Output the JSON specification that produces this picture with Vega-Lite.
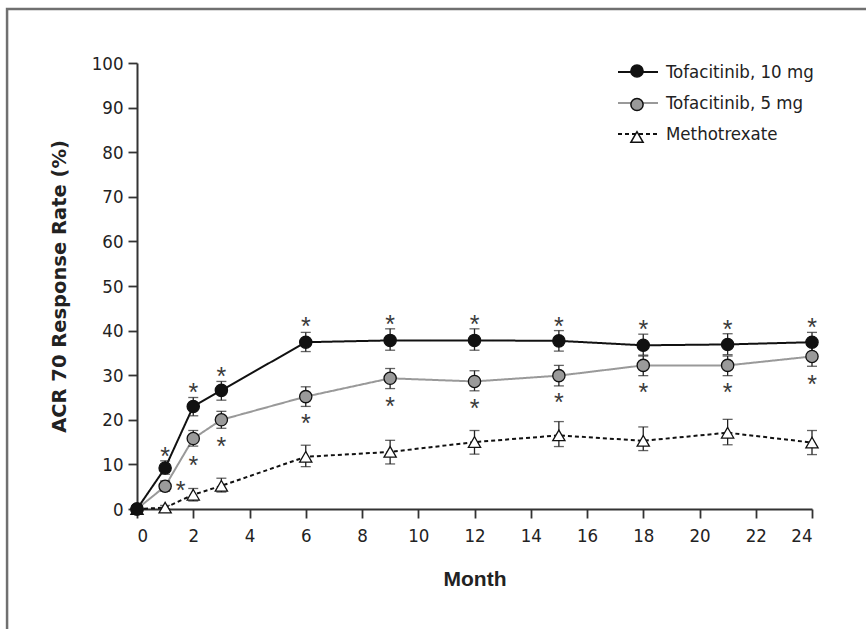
{
  "$schema": "https://vega.github.io/schema/vega-lite/v6.json",
  "width": 675,
  "height": 446,
  "autosize": {"type": "none"},
  "padding": {"left": 137, "top": 63, "right": 54, "bottom": 120},
  "background": "white",
  "config": {
    "view": {"stroke": null},
    "axis": {
      "domainColor": "#333",
      "domainWidth": 2,
      "tickColor": "#333",
      "tickWidth": 1.8,
      "labelFont": "DejaVu Sans Condensed, Liberation Sans, sans-serif",
      "labelFontSize": 18.5,
      "labelColor": "#222",
      "grid": false,
      "titleColor": "#222"
    }
  },
  "datasets": {
    "series": [
      {"month": 0, "group": "Methotrexate", "order": 3, "value": 0, "lo": 0, "hi": 0},
      {"month": 1, "group": "Methotrexate", "order": 3, "value": 0.3, "lo": 0, "hi": 0.8},
      {"month": 2, "group": "Methotrexate", "order": 3, "value": 3.2, "lo": 1.8, "hi": 4.6},
      {"month": 3, "group": "Methotrexate", "order": 3, "value": 5.2, "lo": 3.8, "hi": 6.9},
      {"month": 6, "group": "Methotrexate", "order": 3, "value": 11.7, "lo": 9.5, "hi": 14.3},
      {"month": 9, "group": "Methotrexate", "order": 3, "value": 12.8, "lo": 10.1, "hi": 15.4},
      {"month": 12, "group": "Methotrexate", "order": 3, "value": 15.0, "lo": 12.3, "hi": 17.6},
      {"month": 15, "group": "Methotrexate", "order": 3, "value": 16.5, "lo": 14.0, "hi": 19.6},
      {"month": 18, "group": "Methotrexate", "order": 3, "value": 15.3, "lo": 13.1, "hi": 18.4},
      {"month": 21, "group": "Methotrexate", "order": 3, "value": 17.1, "lo": 14.4, "hi": 20.1},
      {"month": 24, "group": "Methotrexate", "order": 3, "value": 14.9, "lo": 12.2, "hi": 17.6},
      {"month": 0, "group": "Tofacitinib, 5 mg", "order": 2, "value": 0, "lo": 0, "hi": 0},
      {"month": 1, "group": "Tofacitinib, 5 mg", "order": 2, "value": 5.1, "lo": 4.0, "hi": 6.3},
      {"month": 2, "group": "Tofacitinib, 5 mg", "order": 2, "value": 15.8, "lo": 14.1, "hi": 17.6},
      {"month": 3, "group": "Tofacitinib, 5 mg", "order": 2, "value": 20.0, "lo": 18.1, "hi": 21.9},
      {"month": 6, "group": "Tofacitinib, 5 mg", "order": 2, "value": 25.2, "lo": 23.0, "hi": 27.4},
      {"month": 9, "group": "Tofacitinib, 5 mg", "order": 2, "value": 29.3, "lo": 27.0, "hi": 31.5},
      {"month": 12, "group": "Tofacitinib, 5 mg", "order": 2, "value": 28.6, "lo": 26.5, "hi": 31.0},
      {"month": 15, "group": "Tofacitinib, 5 mg", "order": 2, "value": 29.9, "lo": 27.6, "hi": 32.2},
      {"month": 18, "group": "Tofacitinib, 5 mg", "order": 2, "value": 32.2, "lo": 29.9, "hi": 34.3},
      {"month": 21, "group": "Tofacitinib, 5 mg", "order": 2, "value": 32.2, "lo": 29.9, "hi": 34.3},
      {"month": 24, "group": "Tofacitinib, 5 mg", "order": 2, "value": 34.2, "lo": 32.0, "hi": 36.5},
      {"month": 0, "group": "Tofacitinib, 10 mg", "order": 1, "value": 0, "lo": 0, "hi": 0},
      {"month": 1, "group": "Tofacitinib, 10 mg", "order": 1, "value": 9.2, "lo": 7.8, "hi": 10.8},
      {"month": 2, "group": "Tofacitinib, 10 mg", "order": 1, "value": 23.0, "lo": 20.9, "hi": 25.0},
      {"month": 3, "group": "Tofacitinib, 10 mg", "order": 1, "value": 26.6, "lo": 24.4, "hi": 28.6},
      {"month": 6, "group": "Tofacitinib, 10 mg", "order": 1, "value": 37.4, "lo": 35.3, "hi": 39.6},
      {"month": 9, "group": "Tofacitinib, 10 mg", "order": 1, "value": 37.8, "lo": 35.6, "hi": 40.4},
      {"month": 12, "group": "Tofacitinib, 10 mg", "order": 1, "value": 37.8, "lo": 35.6, "hi": 40.4},
      {"month": 15, "group": "Tofacitinib, 10 mg", "order": 1, "value": 37.7, "lo": 35.4, "hi": 40.0},
      {"month": 18, "group": "Tofacitinib, 10 mg", "order": 1, "value": 36.7, "lo": 34.5, "hi": 39.2},
      {"month": 21, "group": "Tofacitinib, 10 mg", "order": 1, "value": 36.9, "lo": 34.6, "hi": 39.3},
      {"month": 24, "group": "Tofacitinib, 10 mg", "order": 1, "value": 37.4, "lo": 35.1, "hi": 39.6}
    ],
    "stars": [
      {"month": 1, "y": 13.2},
      {"month": 2, "y": 27.5},
      {"month": 3, "y": 31.1},
      {"month": 6, "y": 42.3},
      {"month": 9, "y": 42.8},
      {"month": 12, "y": 42.8},
      {"month": 15, "y": 42.3},
      {"month": 18, "y": 41.6},
      {"month": 21, "y": 41.6},
      {"month": 24, "y": 42.1},
      {"month": 1.55, "y": 5.4},
      {"month": 2, "y": 11.0},
      {"month": 3, "y": 15.3},
      {"month": 6, "y": 20.5},
      {"month": 9, "y": 24.3},
      {"month": 12, "y": 23.9},
      {"month": 15, "y": 25.2},
      {"month": 18, "y": 27.5},
      {"month": 21, "y": 27.5},
      {"month": 24, "y": 29.3}
    ]
  },
  "layer": [
    {
      "data": {"values": [{}]},
      "mark": {"type": "rect", "filled": false, "stroke": "#707070", "strokeWidth": 2.5, "clip": false},
      "encoding": {
        "x": {"datum": -4.62, "type": "quantitative", "scale": {"domain": [0, 24], "nice": false}},
        "x2": {"datum": 30},
        "y": {"datum": 112.1, "type": "quantitative", "scale": {"domain": [0, 100], "nice": false}},
        "y2": {"datum": -30}
      }
    },
    {
      "data": {"name": "series"},
      "mark": {"type": "line", "strokeWidth": 2},
      "encoding": {
        "x": {
          "field": "month", "type": "quantitative",
          "scale": {"domain": [0, 24], "nice": false},
          "axis": {
            "values": [0, 2, 4, 6, 8, 10, 12, 14, 16, 18, 20, 22, 24],
            "tickSize": 9, "labelPadding": 8,
            "title": "Month", "titleFont": "Liberation Sans", "titleFontWeight": "bold", "titleFontSize": 21, "titlePadding": 24
          }
        },
        "y": {
          "field": "value", "type": "quantitative",
          "scale": {"domain": [0, 100], "nice": false},
          "axis": {
            "values": [0, 10, 20, 30, 40, 50, 60, 70, 80, 90, 100],
            "tickSize": 9, "labelPadding": 5,
            "title": "ACR 70 Response Rate (%)", "titleFont": "DejaVu Sans", "titleFontWeight": "bold", "titleFontSize": 19.5, "titlePadding": 22
          }
        },
        "detail": {"field": "group"},
        "stroke": {
          "field": "group", "type": "nominal",
          "scale": {"domain": ["Tofacitinib, 10 mg", "Tofacitinib, 5 mg", "Methotrexate"], "range": ["#111111", "#999999", "#111111"]},
          "legend": {
            "orient": "none", "legendX": 480, "legendY": -12, "title": null, "padding": 0,
            "symbolType": "stroke", "symbolSize": 1600, "symbolStrokeWidth": 2,
            "labelFont": "DejaVu Sans Condensed, Liberation Sans, sans-serif", "labelFontSize": 18.5, "labelColor": "#222", "labelOffset": 7,
            "rowPadding": -6
          }
        },
        "strokeDash": {
          "field": "group", "type": "nominal",
          "scale": {"domain": ["Tofacitinib, 10 mg", "Tofacitinib, 5 mg", "Methotrexate"], "range": [[1, 0], [1, 0], [4, 3]]}
        }
      }
    },
    {
      "data": {"name": "series"},
      "mark": {"type": "errorbar", "ticks": {"size": 10, "thickness": 1.3, "color": "#222"}, "rule": {"strokeWidth": 1.3, "color": "#222"}},
      "encoding": {
        "x": {"field": "month", "type": "quantitative"},
        "y": {"field": "lo", "type": "quantitative", "title": "ACR 70 Response Rate (%)"},
        "y2": {"field": "hi"}
      }
    },
    {
      "data": {"name": "series"},
      "mark": {"type": "point", "filled": true, "size": 150, "stroke": "#111", "strokeWidth": 1.3, "opacity": 1},
      "encoding": {
        "x": {"field": "month", "type": "quantitative"},
        "y": {"field": "value", "type": "quantitative", "title": "ACR 70 Response Rate (%)"},
        "shape": {
          "field": "group", "type": "nominal",
          "sort": {"field": "order", "op": "min"},
          "scale": {"range": ["circle", "circle", "triangle-up"]},
          "legend": {
            "orient": "none", "legendX": 493, "legendY": 1, "title": null, "padding": 0,
            "symbolSize": 150,
            "labelExpr": "''", "labelFontSize": 1, "labelOffset": 0,
            "rowPadding": 13.5,
            "encode": {"symbols": {"update": {"stroke": {"value": "#111"}, "strokeWidth": {"value": 1.3}, "opacity": {"value": 1}}}}
          }
        },
        "fill": {
          "field": "group", "type": "nominal",
          "sort": {"field": "order", "op": "min"},
          "scale": {"range": ["#111111", "#9a9a9a", "#ffffff"]},
          "legend": {
            "orient": "none", "legendX": 493, "legendY": 1, "title": null, "padding": 0,
            "symbolSize": 150,
            "labelExpr": "''", "labelFontSize": 1, "labelOffset": 0,
            "rowPadding": 13.5,
            "encode": {"symbols": {"update": {"stroke": {"value": "#111"}, "strokeWidth": {"value": 1.3}, "opacity": {"value": 1}}}}
          }
        }
      }
    },
    {
      "data": {"name": "stars"},
      "mark": {"type": "text", "text": "*", "font": "Liberation Sans", "fontSize": 25, "color": "#3a3a3a", "baseline": "middle", "dy": 6.5},
      "encoding": {
        "x": {"field": "month", "type": "quantitative"},
        "y": {"field": "y", "type": "quantitative", "title": "ACR 70 Response Rate (%)"}
      }
    }
  ]
}
